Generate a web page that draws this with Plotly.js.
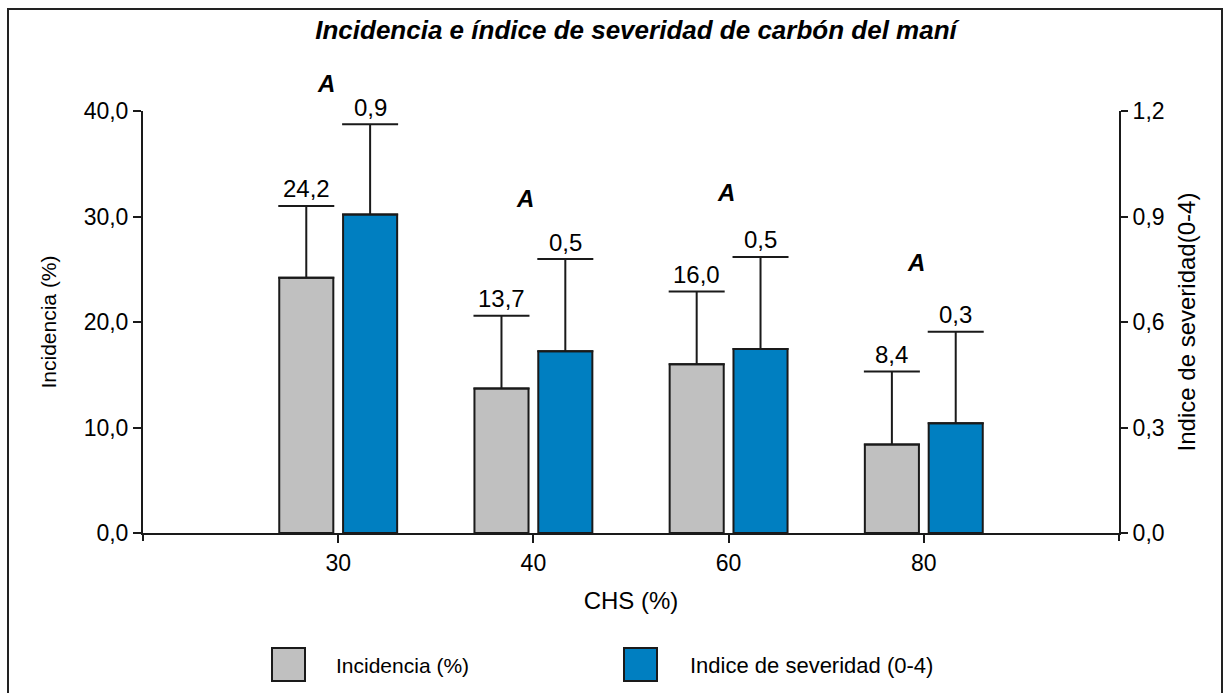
<!DOCTYPE html>
<html>
<head>
<meta charset="utf-8">
<script src="https://cdn.plot.ly/plotly-3.0.1.min.js"></script>
<style>html,body{margin:0;padding:0;background:#fff;}#chart{width:1231px;height:693px;}</style>
</head>
<body>
<div id="chart"></div>
<script>
// ---- data ----
const categorias = ['30', '40', '60', '80'];
const incidencia = [24.2, 13.7, 16.0, 8.4];
const incidenciaErr = [6.8, 6.9, 6.9, 6.9];
const severidad = [0.906, 0.517, 0.523, 0.312];
const severidadErr = [0.256, 0.262, 0.262, 0.26];
const letras = ['A', 'A', 'A', 'A'];
const nombreIncidencia = 'Incidencia (%)';
const nombreSeveridad = 'Indice de severidad (0-4)';

// ---- layout constants ----
const W = 1231, H = 693;
const mL = 143, mR = 112, mT = 111, mB = 160;
const pw = W - mL - mR, ph = H - mT - mB;
const px2x = p => (p - mL) / pw;
const px2y = p => (H - mB - p) / ph;
const FONT = 'Liberation Sans, Arial, sans-serif';
const barW = 0.277, offGray = -0.302, offBlue = 0.025;
const grayC = offGray + barW / 2, blueC = offBlue + barW / 2;
// letter placement: [x offset in category units, y in page pixels]
const letraPos = [[-0.06, 83], [-0.045, 198], [-0.015, 192], [-0.04, 262]];
const fmt = v => v.toFixed(1).replace('.', ',');

const traces = [
  {
    type: 'bar', name: nombreIncidencia, x: categorias, y: incidencia,
    width: barW, offset: offGray,
    marker: {color: '#C0C0C0', line: {color: '#1a1a1a', width: 2}},
    error_y: {type: 'data', symmetric: false, array: incidenciaErr,
      arrayminus: incidencia.map(() => 0), color: '#1a1a1a', thickness: 2, width: 28},
    showlegend: false, hoverinfo: 'y'
  },
  {
    type: 'bar', name: nombreSeveridad, x: categorias, y: severidad, yaxis: 'y2',
    width: barW, offset: offBlue,
    marker: {color: '#007FC1', line: {color: '#1a1a1a', width: 2}},
    error_y: {type: 'data', symmetric: false, array: severidadErr,
      arrayminus: severidad.map(() => 0), color: '#1a1a1a', thickness: 2, width: 28},
    showlegend: false, hoverinfo: 'y'
  }
];

const annotations = [];
categorias.forEach((c, i) => {
  annotations.push({x: i + grayC, y: incidencia[i] + incidenciaErr[i], xref: 'x', yref: 'y',
    text: fmt(incidencia[i]), showarrow: false, yshift: 17, yanchor: 'middle',
    font: {family: FONT, size: 24, color: '#000'}});
  annotations.push({x: i + blueC, y: severidad[i] + severidadErr[i], xref: 'x', yref: 'y2',
    text: fmt(severidad[i]), showarrow: false, yshift: 17, yanchor: 'middle',
    font: {family: FONT, size: 24, color: '#000'}});
  annotations.push({x: i + letraPos[i][0], y: px2y(letraPos[i][1]), xref: 'x', yref: 'paper',
    text: '<b><i>' + letras[i] + '</i></b>', showarrow: false, yanchor: 'middle',
    font: {family: FONT, size: 24, color: '#000'}});
});
// legend text
annotations.push({x: px2x(334), y: px2y(665), xref: 'paper', yref: 'paper', xanchor: 'left', yanchor: 'middle',
  text: nombreIncidencia, showarrow: false, font: {family: FONT, size: 21, color: '#000'}});
annotations.push({x: px2x(688), y: px2y(665), xref: 'paper', yref: 'paper', xanchor: 'left', yanchor: 'middle',
  text: nombreSeveridad, showarrow: false, font: {family: FONT, size: 22, color: '#000'}});

const shapes = [
  // outer frame
  {type: 'rect', xref: 'paper', yref: 'paper', x0: px2x(8), x1: px2x(1222), y0: px2y(720), y1: px2y(9),
    line: {color: '#222', width: 2}, fillcolor: 'rgba(0,0,0,0)'},
  // end ticks under the x axis
  {type: 'line', xref: 'paper', yref: 'paper', x0: 0, x1: 0, y0: 0, y1: px2y(H - mB + 8), line: {color: '#1a1a1a', width: 2}},
  {type: 'line', xref: 'paper', yref: 'paper', x0: 1, x1: 1, y0: 0, y1: px2y(H - mB + 8), line: {color: '#1a1a1a', width: 2}},
  // legend swatches
  {type: 'rect', xref: 'paper', yref: 'paper', x0: px2x(272), x1: px2x(305), y0: px2y(681), y1: px2y(648),
    fillcolor: '#C0C0C0', line: {color: '#1a1a1a', width: 2}},
  {type: 'rect', xref: 'paper', yref: 'paper', x0: px2x(624), x1: px2x(657), y0: px2y(681), y1: px2y(648),
    fillcolor: '#007FC1', line: {color: '#1a1a1a', width: 2}}
];

const layout = {
  width: W, height: H,
  margin: {l: mL, r: mR, t: mT, b: mB, pad: 0},
  paper_bgcolor: '#fff', plot_bgcolor: '#fff',
  separators: ',.',
  showlegend: false,
  title: {text: '<b><i>Incidencia e índice de severidad de carbón del maní</i></b>',
    font: {family: FONT, size: 26, color: '#000'},
    xref: 'paper', x: px2x(636), xanchor: 'center',
    yref: 'container', y: 1 - 30 / H, yanchor: 'middle'},
  xaxis: {
    type: 'category', categoryorder: 'array', categoryarray: categorias,
    range: [-1, 4], fixedrange: true,
    showline: true, linecolor: '#1a1a1a', linewidth: 2, mirror: false,
    ticks: 'outside', ticklen: 8, tickwidth: 2, tickcolor: '#1a1a1a',
    showgrid: false, zeroline: false,
    tickfont: {family: FONT, size: 23, color: '#000'},
    title: {text: 'CHS (%)', font: {family: FONT, size: 24, color: '#000'}, standoff: 18}
  },
  yaxis: {
    range: [0, 40], tickvals: [0, 10, 20, 30, 40], tickformat: '.1f',
    showline: true, linecolor: '#1a1a1a', linewidth: 2,
    ticks: 'outside', ticklen: 8, tickwidth: 2, tickcolor: '#1a1a1a',
    showgrid: false, zeroline: false,
    tickfont: {family: FONT, size: 23, color: '#000'},
    title: {text: 'Incidencia (%)', font: {family: FONT, size: 21, color: '#000'}, standoff: 21}
  },
  yaxis2: {
    overlaying: 'y', side: 'right', anchor: 'x',
    range: [0, 1.2], tickvals: [0, 0.3, 0.6, 0.9, 1.2], tickformat: '.1f',
    showline: true, linecolor: '#1a1a1a', linewidth: 2,
    ticks: 'outside', ticklen: 7, tickwidth: 2, tickcolor: '#1a1a1a',
    showgrid: false, zeroline: false,
    tickfont: {family: FONT, size: 23, color: '#000'},
    title: {text: 'Indice de severidad(0-4)', font: {family: FONT, size: 24, color: '#000'}, standoff: 15}
  },
  annotations: annotations,
  shapes: shapes
};

Plotly.newPlot('chart', traces, layout, {staticPlot: true, displayModeBar: false});
</script>
</body>
</html>
